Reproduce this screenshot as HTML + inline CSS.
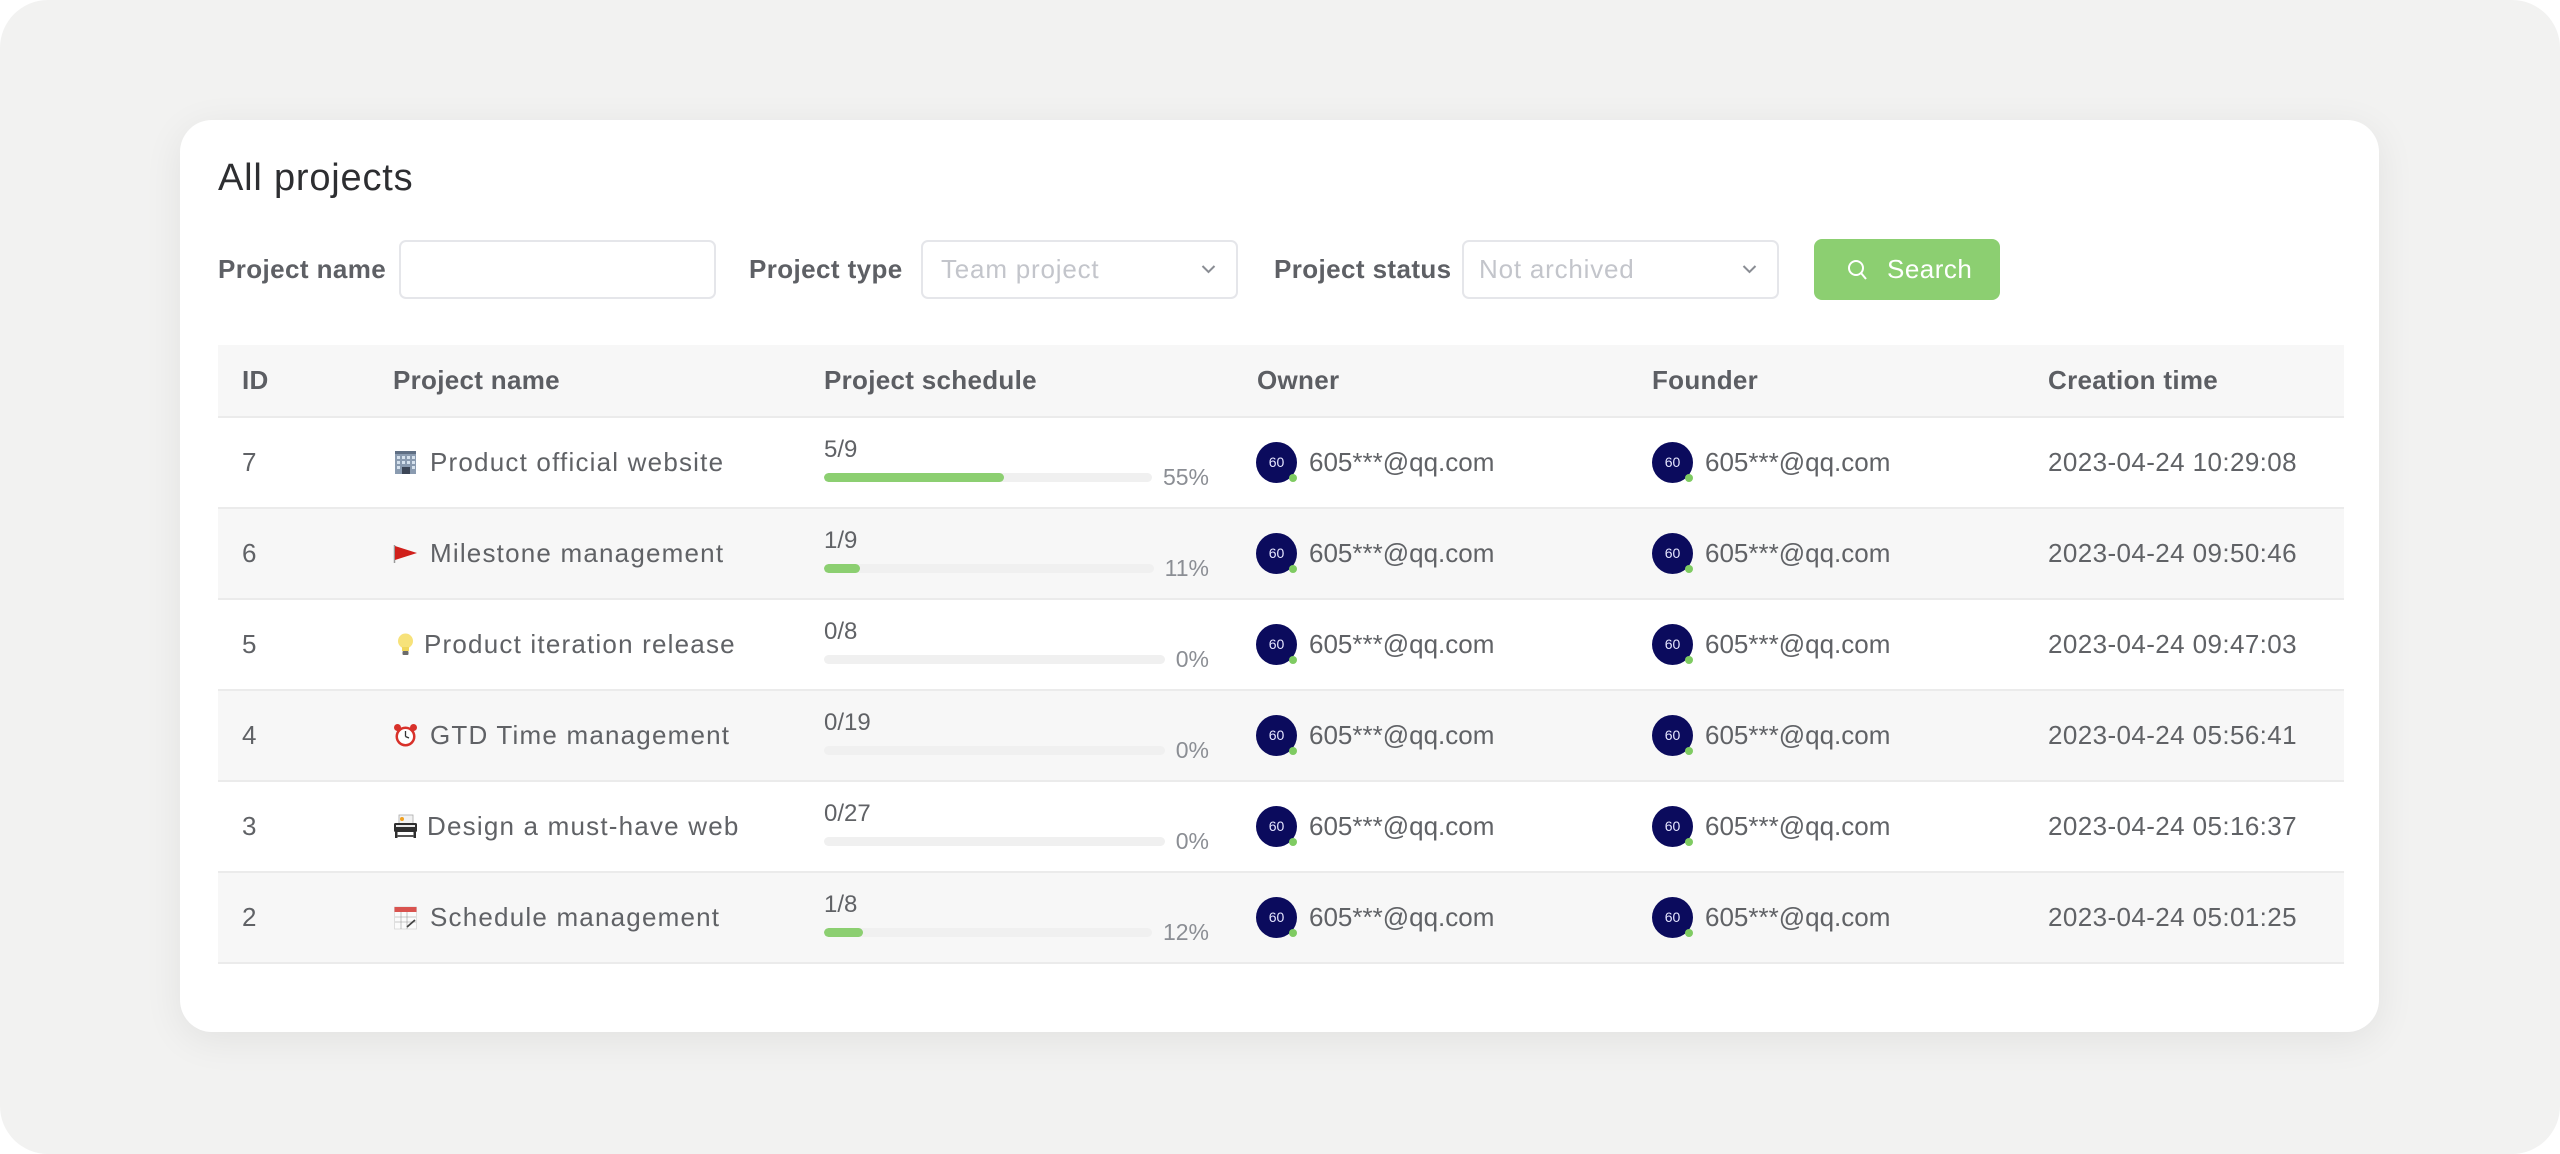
<!DOCTYPE html>
<html>
<head>
<meta charset="utf-8">
<style>
  html,body{margin:0;padding:0;}
  body{width:2560px;height:1154px;background:#ffffff;position:relative;overflow:hidden;font-family:"Liberation Sans","Noto Sans CJK SC",sans-serif;color:#606266;}
  .bg{position:absolute;left:0;top:0;width:2560px;height:1154px;background:#f2f2f1;border-radius:48px;}
  .card{position:absolute;left:180px;top:120px;width:2199px;height:912px;background:#fff;border-radius:32px;box-shadow:0 8px 40px rgba(0,0,0,0.07);}
  .abs{position:absolute;}
  .title{left:218px;top:156px;font-size:38px;line-height:44px;color:#2d2e31;letter-spacing:0.8px;white-space:nowrap;}
  .lbl{font-size:26px;font-weight:bold;color:#5e6065;line-height:30px;top:254px;white-space:nowrap;letter-spacing:0.4px;}
  .inp{top:240px;height:55px;border:2px solid #e5e6ea;border-radius:7px;background:#fff;box-sizing:content-box;}
  .ph{position:absolute;top:12px;font-size:26px;line-height:30px;color:#c3c5cb;letter-spacing:0.8px;white-space:nowrap;}
  .chev{position:absolute;top:22px;width:15px;height:10px;}
  .btn{left:1814px;top:239px;width:186px;height:61px;background:#8ccf71;border-radius:8px;}
  .btn span{position:absolute;left:73px;top:15px;font-size:26px;line-height:30px;color:#fff;letter-spacing:0.5px;}
  .thead{left:218px;top:345px;width:2126px;height:71px;background:#f7f7f7;border-bottom:2px solid #ebebeb;}
  .th{position:absolute;top:20px;font-size:26px;font-weight:bold;line-height:30px;color:#5c5e63;white-space:nowrap;letter-spacing:0.3px;}
  .row{position:absolute;left:218px;width:2126px;height:89px;border-bottom:2px solid #ebebeb;background:#fff;}
  .row.g{background:#f7f7f7;}
  .td{position:absolute;top:29px;font-size:26px;line-height:30px;color:#606266;white-space:nowrap;}
  .name{letter-spacing:1.2px;}
  .ico{position:absolute;top:32px;width:25px;height:25px;}
  .frac{position:absolute;left:606px;top:20px;font-size:24px;line-height:24px;color:#606266;}
  .prog{position:absolute;left:606px;top:48px;width:385px;height:26px;display:flex;align-items:flex-start;}
  .bar{flex:1;height:9px;margin-top:7px;background:#f0f0f0;border-radius:5px;position:relative;overflow:hidden;}
  .fill{position:absolute;left:0;top:0;height:9px;background:#8ccf71;border-radius:5px;}
  .pct{margin-left:11px;font-size:23px;line-height:23px;color:#8b8e94;}
  .av{position:absolute;top:24px;width:41px;height:41px;border-radius:50%;background:#0b0b5d;}
  .av span{position:absolute;left:0;top:12px;width:41px;text-align:center;font-size:14px;line-height:17px;color:#e6e6ff;}
  .av i{position:absolute;left:33px;top:32px;width:8px;height:8px;border-radius:50%;background:#7fcb62;}
  .date{letter-spacing:0.4px;}
</style>
</head>
<body>
<div class="bg"></div>
<div class="card"></div>

<div class="abs title">All projects</div>

<!-- filters -->
<div class="abs lbl" style="left:218px;">Project name</div>
<div class="abs inp" style="left:399px;width:313px;"></div>

<div class="abs lbl" style="left:749px;">Project type</div>
<div class="abs inp" style="left:921px;width:313px;">
  <div class="ph" style="left:18px;">Team project</div>
  <svg class="chev" style="left:278px;" viewBox="0 0 15 10"><polyline points="1.5,2 7.5,8 13.5,2" fill="none" stroke="#8a8d94" stroke-width="2"/></svg>
</div>

<div class="abs lbl" style="left:1274px;">Project status</div>
<div class="abs inp" style="left:1462px;width:313px;">
  <div class="ph" style="left:15px;">Not archived</div>
  <svg class="chev" style="left:278px;" viewBox="0 0 15 10"><polyline points="1.5,2 7.5,8 13.5,2" fill="none" stroke="#8a8d94" stroke-width="2"/></svg>
</div>

<div class="abs btn">
  <svg style="position:absolute;left:33px;top:20px;" width="22" height="22" viewBox="0 0 22 22"><circle cx="9" cy="9" r="7" fill="none" stroke="#fff" stroke-width="2"/><line x1="14" y1="14" x2="19" y2="20" stroke="#fff" stroke-width="2"/></svg>
  <span>Search</span>
</div>

<!-- table header -->
<div class="abs thead">
  <div class="th" style="left:24px;">ID</div>
  <div class="th" style="left:175px;">Project name</div>
  <div class="th" style="left:606px;">Project schedule</div>
  <div class="th" style="left:1039px;">Owner</div>
  <div class="th" style="left:1434px;">Founder</div>
  <div class="th" style="left:1830px;">Creation time</div>
</div>

<!-- Row 1 -->
<div class="row" style="top:418px;">
  <div class="td" style="left:24px;">7</div>
  <svg class="ico" style="left:175px;" viewBox="0 0 25 25"><rect x="2" y="1" width="21" height="23" fill="#8a9bb0"/><rect x="2" y="1" width="21" height="3" fill="#5f6f84"/><g fill="#d6e2ee"><rect x="4" y="6" width="3" height="3"/><rect x="9" y="6" width="3" height="3"/><rect x="14" y="6" width="3" height="3"/><rect x="19" y="6" width="3" height="3"/><rect x="4" y="11" width="3" height="3"/><rect x="9" y="11" width="3" height="3"/><rect x="14" y="11" width="3" height="3"/><rect x="19" y="11" width="3" height="3"/><rect x="4" y="16" width="3" height="3"/><rect x="19" y="16" width="3" height="3"/></g><rect x="9" y="17" width="8" height="7" fill="#3c4656"/></svg>
  <div class="td name" style="left:212px;">Product official website</div>
  <div class="frac">5/9</div>
  <div class="prog"><div class="bar"><div class="fill" style="width:55%;"></div></div><div class="pct">55%</div></div>
  <div class="av" style="left:1038px;"><span>60</span><i></i></div>
  <div class="td" style="left:1091px;">605***@qq.com</div>
  <div class="av" style="left:1434px;"><span>60</span><i></i></div>
  <div class="td" style="left:1487px;">605***@qq.com</div>
  <div class="td date" style="left:1830px;">2023-04-24 10:29:08</div>
</div>

<!-- Row 2 -->
<div class="row g" style="top:509px;">
  <div class="td" style="left:24px;">6</div>
  <svg class="ico" style="left:175px;" viewBox="0 0 25 25"><line x1="1.5" y1="4" x2="1.5" y2="22" stroke="#9a9a9a" stroke-width="1.5"/><polygon points="2,5 24,12 2,19" fill="#d0201b"/></svg>
  <div class="td name" style="left:212px;">Milestone management</div>
  <div class="frac">1/9</div>
  <div class="prog"><div class="bar"><div class="fill" style="width:11%;"></div></div><div class="pct">11%</div></div>
  <div class="av" style="left:1038px;"><span>60</span><i></i></div>
  <div class="td" style="left:1091px;">605***@qq.com</div>
  <div class="av" style="left:1434px;"><span>60</span><i></i></div>
  <div class="td" style="left:1487px;">605***@qq.com</div>
  <div class="td date" style="left:1830px;">2023-04-24 09:50:46</div>
</div>

<!-- Row 3 -->
<div class="row" style="top:600px;">
  <div class="td" style="left:24px;">5</div>
  <svg class="ico" style="left:175px;" viewBox="0 0 25 25"><circle cx="12.5" cy="9" r="7.5" fill="#f7e27a"/><rect x="9" y="15" width="7" height="4" fill="#f0d65a"/><rect x="9.5" y="19" width="6" height="4" rx="1" fill="#6b6b6b"/></svg>
  <div class="td name" style="left:206px;">Product iteration release</div>
  <div class="frac">0/8</div>
  <div class="prog"><div class="bar"></div><div class="pct">0%</div></div>
  <div class="av" style="left:1038px;"><span>60</span><i></i></div>
  <div class="td" style="left:1091px;">605***@qq.com</div>
  <div class="av" style="left:1434px;"><span>60</span><i></i></div>
  <div class="td" style="left:1487px;">605***@qq.com</div>
  <div class="td date" style="left:1830px;">2023-04-24 09:47:03</div>
</div>

<!-- Row 4 -->
<div class="row g" style="top:691px;">
  <div class="td" style="left:24px;">4</div>
  <svg class="ico" style="left:175px;" viewBox="0 0 25 25"><circle cx="4.5" cy="4.5" r="3.5" fill="#d8312a"/><circle cx="20.5" cy="4.5" r="3.5" fill="#d8312a"/><circle cx="12.5" cy="13.5" r="10" fill="#d8312a"/><circle cx="12.5" cy="13.5" r="7.5" fill="#fff"/><line x1="12.5" y1="13.5" x2="12.5" y2="8" stroke="#333" stroke-width="1.3"/><line x1="12.5" y1="13.5" x2="16" y2="15" stroke="#333" stroke-width="1.3"/></svg>
  <div class="td name" style="left:212px;">GTD Time management</div>
  <div class="frac">0/19</div>
  <div class="prog"><div class="bar"></div><div class="pct">0%</div></div>
  <div class="av" style="left:1038px;"><span>60</span><i></i></div>
  <div class="td" style="left:1091px;">605***@qq.com</div>
  <div class="av" style="left:1434px;"><span>60</span><i></i></div>
  <div class="td" style="left:1487px;">605***@qq.com</div>
  <div class="td date" style="left:1830px;">2023-04-24 05:56:41</div>
</div>

<!-- Row 5 -->
<div class="row" style="top:782px;">
  <div class="td" style="left:24px;">3</div>
  <svg class="ico" style="left:175px;" viewBox="0 0 25 25"><rect x="6" y="1" width="14" height="9" fill="#f2f2f2" stroke="#aaa" stroke-width="0.8"/><circle cx="9" cy="5" r="2" fill="#f0a020"/><rect x="1" y="9" width="23" height="9" rx="1.5" fill="#2f2f2f"/><rect x="3" y="11" width="19" height="2" fill="#e8e8e8"/><rect x="2" y="18" width="2.5" height="6" fill="#2f2f2f"/><rect x="20.5" y="18" width="2.5" height="6" fill="#2f2f2f"/><rect x="4" y="21" width="17" height="2" fill="#555"/></svg>
  <div class="td name" style="left:209px;">Design a must-have web</div>
  <div class="frac">0/27</div>
  <div class="prog"><div class="bar"></div><div class="pct">0%</div></div>
  <div class="av" style="left:1038px;"><span>60</span><i></i></div>
  <div class="td" style="left:1091px;">605***@qq.com</div>
  <div class="av" style="left:1434px;"><span>60</span><i></i></div>
  <div class="td" style="left:1487px;">605***@qq.com</div>
  <div class="td date" style="left:1830px;">2023-04-24 05:16:37</div>
</div>

<!-- Row 6 -->
<div class="row g" style="top:873px;">
  <div class="td" style="left:24px;">2</div>
  <svg class="ico" style="left:175px;" viewBox="0 0 25 25"><rect x="1.5" y="2" width="22" height="22" fill="#fbfbfb" stroke="#d8d8d8" stroke-width="0.8"/><rect x="1.5" y="2" width="22" height="5" fill="#d9534f"/><g stroke="#999" stroke-width="0.6"><line x1="2" y1="12" x2="23" y2="12"/><line x1="2" y1="17" x2="23" y2="17"/><line x1="8" y1="7" x2="8" y2="24"/><line x1="14" y1="7" x2="14" y2="24"/></g><line x1="14" y1="22" x2="22" y2="15" stroke="#444" stroke-width="1.8"/></svg>
  <div class="td name" style="left:212px;">Schedule management</div>
  <div class="frac">1/8</div>
  <div class="prog"><div class="bar"><div class="fill" style="width:12%;"></div></div><div class="pct">12%</div></div>
  <div class="av" style="left:1038px;"><span>60</span><i></i></div>
  <div class="td" style="left:1091px;">605***@qq.com</div>
  <div class="av" style="left:1434px;"><span>60</span><i></i></div>
  <div class="td" style="left:1487px;">605***@qq.com</div>
  <div class="td date" style="left:1830px;">2023-04-24 05:01:25</div>
</div>

</body>
</html>
